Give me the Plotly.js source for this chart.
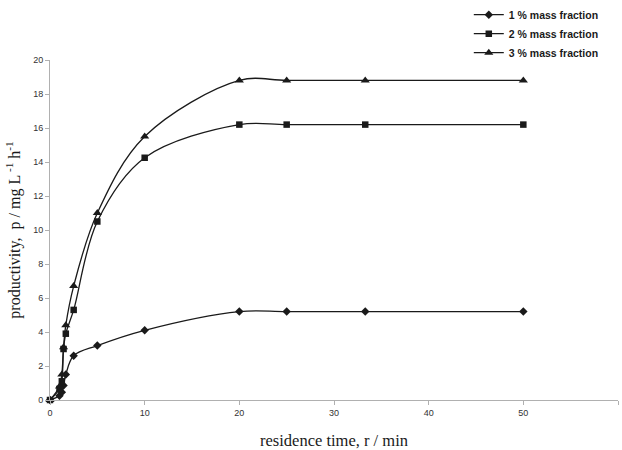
<!DOCTYPE html>
<html>
<head>
<meta charset="utf-8">
<script src="https://cdn.plot.ly/plotly-3.0.1.min.js"></script>
<style>html,body{margin:0;padding:0;background:#fff;}#chart{width:622px;height:450px;}</style>
</head>
<body>
<div id="chart"></div>
<script>
// residence time, min
const residenceTime = [0, 1, 1.25, 1.43, 1.67, 2.5, 5, 10, 20, 25, 33.3, 50];
const seriesNames = ["1 % mass fraction", "2 % mass fraction", "3 % mass fraction"];
const prod1 = [0, 0.25, 0.45, 0.85, 1.5, 2.6, 3.2, 4.1, 5.2, 5.2, 5.2, 5.2];
const prod2 = [0, 0.65, 1.1, 3.0, 3.9, 5.3, 10.5, 14.25, 16.2, 16.2, 16.2, 16.2];
const prod3 = [0, 0.8, 1.5, 3.1, 4.4, 6.7, 11.0, 15.5, 18.8, 18.8, 18.8, 18.8];
const xTicks = [0, 10, 20, 30, 40, 50, 60];
const yTicks = [0, 2, 4, 6, 8, 10, 12, 14, 16, 18, 20];

const symbols = ["diamond", "square", "triangle-up"];
const sizes = [6.5, 6.5, 8];
const values = [prod1, prod2, prod3];
const traces = values.map((v, i) => ({
  x: residenceTime, y: v, name: seriesNames[i], type: "scatter", mode: "lines+markers",
  line: {color: "#1a1a1a", width: 1.3, shape: "spline", smoothing: 1},
  marker: {symbol: symbols[i], size: sizes[i], color: "#1a1a1a"},
  cliponaxis: false
}));

const layout = {
  width: 622, height: 450,
  margin: {l: 50, r: 4, t: 60, b: 50, autoexpand: false},
  paper_bgcolor: "#fff", plot_bgcolor: "#fff",
  showlegend: true,
  legend: {x: 0.975, xanchor: "right", y: 1.176, yanchor: "top", traceorder: "normal",
    font: {family: "Liberation Sans, Arial, sans-serif", size: 10.5, color: "#1a1a1a", weight: "bold"},
    itemwidth: 30, tracegroupgap: 0, bgcolor: "rgba(0,0,0,0)"},
  xaxis: {range: [0, 60], tickvals: xTicks, ticktext: xTicks.map(String), automargin: false,
    showgrid: false, zeroline: false, showline: true, linecolor: "#b0b0b0", linewidth: 1,
    ticks: "outside", ticklen: 4, tickcolor: "#b0b0b0",
    tickfont: {family: "Liberation Sans, Arial, sans-serif", size: 9, color: "#333"},
    title: {text: "residence time, r / min", standoff: 18,
      font: {family: "Liberation Serif, Times New Roman, serif", size: 16.5, color: "#1a1a1a"}}},
  yaxis: {range: [0, 20], tickvals: yTicks, ticktext: yTicks.map(String), automargin: false,
    showgrid: false, zeroline: false, showline: true, linecolor: "#b0b0b0", linewidth: 1,
    ticks: "outside", ticklen: 4, tickcolor: "#b0b0b0",
    tickfont: {family: "Liberation Sans, Arial, sans-serif", size: 9, color: "#333"},
    title: {text: "productivity,  p / mg L<sup> -1</sup> h<sup>-1</sup>", standoff: 8,
      font: {family: "Liberation Serif, Times New Roman, serif", size: 16, color: "#1a1a1a"}}}
};
Plotly.newPlot("chart", traces, layout, {displayModeBar: false, staticPlot: true});
</script>
</body>
</html>
